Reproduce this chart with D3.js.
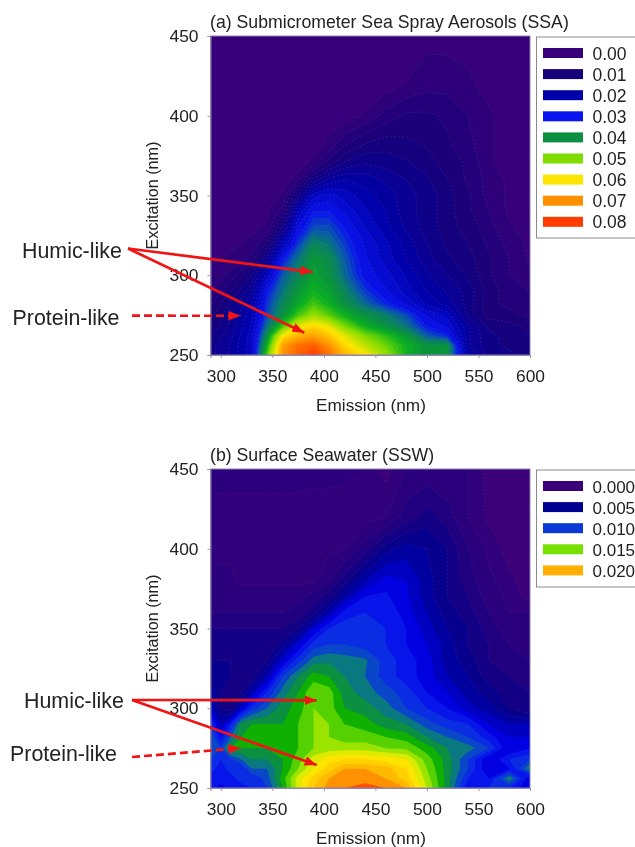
<!DOCTYPE html>
<html>
<head>
<meta charset="utf-8">
<script src="https://cdn.jsdelivr.net/npm/d3@7"></script>
<style>
  html, body { margin: 0; background: #fff; }
  svg { display: block; filter: blur(0.45px); font-family: "Liberation Sans", Arial, sans-serif; }
  text { fill: #222; }
</style>
</head>
<body>
<svg id="chart" width="635" height="847"></svg>
<script>
// values, intensity in units of 0.001
const emissionA = [290, 310, 330, 345, 360, 375, 390, 405, 420, 440, 460, 480, 500, 520, 540, 560, 580, 600];
const excitationA = [250, 256, 262, 268, 275, 282, 290, 300, 310, 320, 330, 340, 350, 360, 370, 380, 400, 420, 450];
const intensityA = [
  [14, 18, 24, 48, 70, 76, 80, 74, 66, 60, 52, 44, 40, 40, 20, 14, 13, 12],
  [14, 18, 24, 44, 68, 74, 76, 70, 62, 55, 49, 44, 40, 40, 18, 13, 12, 12],
  [12, 17, 24, 40, 60, 66, 68, 64, 58, 50, 46, 41, 34, 31, 18, 13, 12, 10],
  [10, 16, 23, 36, 47, 58, 62, 58, 50, 44, 40, 36, 30, 27, 18, 12, 11, 9],
  [9, 15, 22, 33, 40, 47, 52, 48, 44, 40, 37, 33, 27, 24, 14, 9, 8, 7],
  [7, 13, 20, 32, 38, 43, 47, 44, 40, 35, 31, 27, 22, 19, 14, 8, 7, 6],
  [5, 10, 17, 30, 36, 41, 44, 42, 38, 32, 28, 24, 20, 17, 14, 9, 6, 5],
  [3, 6, 13, 24, 34, 38, 42, 40, 35, 29, 26, 22, 18, 15, 12, 8, 5, 3],
  [2, 3, 6, 16, 30, 36, 41, 39, 34, 28, 24, 20, 16, 13, 11, 8, 5, 2],
  [1, 2, 3, 8, 22, 32, 38, 36, 32, 27, 23, 19, 15, 12, 10, 7, 4, 2],
  [0, 1, 2, 3, 13, 28, 33, 33, 30, 25, 21, 17, 14, 11, 9, 6, 3, 1],
  [0, 0, 1, 2, 6, 23, 30, 30, 27, 23, 20, 16, 14, 11, 8, 5, 2, 1],
  [0, 0, 0, 1, 3, 13, 24, 26, 24, 21, 19, 16, 14, 11, 8, 4, 2, 1],
  [0, 0, 0, 0, 1, 4, 13, 18, 20, 19, 17, 15, 13, 10, 7, 4, 2, 0],
  [0, 0, 0, 0, 0, 1, 4, 9, 13, 15, 14, 13, 11, 9, 7, 3, 1, 0],
  [0, 0, 0, 0, 0, 0, 1, 4, 8, 11, 12, 11, 10, 8, 6, 3, 1, 0],
  [0, 0, 0, 0, 0, 0, 0, 0, 1, 3, 6, 8, 8, 7, 5, 3, 1, 0],
  [0, 0, 0, 0, 0, 0, 0, 0, 0, 0, 1, 2.6, 4, 4, 3, 1.5, 1, 0],
  [0, 0, 0, 0, 0, 0, 0, 0, 0, 0, 0, 0.5, 1.6, 1.5, 1.5, 1, 0, 0]
];
const legendValuesA = [0, 0.01, 0.02, 0.03, 0.04, 0.05, 0.06, 0.07, 0.08];
const legendLabelsA = ["0.00", "0.01", "0.02", "0.03", "0.04", "0.05", "0.06", "0.07", "0.08"];
const colorStopsA = [0, 0.01, 0.02, 0.03, 0.034, 0.037, 0.04, 0.044, 0.05, 0.06, 0.07, 0.08];
const colorsA = ["#37007a", "#16007a", "#0000a8", "#0a14f0", "#0a5ca8", "#0a8068", "#0a9040", "#0ab020", "#7fdc00", "#ffe600", "#ff9000", "#ff3c00"];

const emissionB = [290, 300, 310, 320, 330, 345, 360, 375, 390, 405, 420, 440, 460, 480, 500, 520, 540, 560, 580, 600];
const excitationB = [250, 256, 262, 268, 275, 282, 290, 300, 310, 320, 330, 340, 350, 360, 370, 380, 400, 420, 450];
const intensityB = [
  [9, 7, 9, 8, 9, 10, 13, 16.5, 19, 20.5, 21, 21.5, 21, 20, 16, 12.5, 8, 9, 9, 7],
  [8, 9, 8, 10, 9, 10.5, 13.5, 16.5, 18.5, 20, 20.5, 20.5, 20, 18.5, 15.5, 12.5, 9, 8, 12, 7],
  [10, 8, 10, 9, 11, 11, 13, 15, 17, 18.5, 20, 20, 19.5, 18, 15, 12.5, 10, 7, 8, 12],
  [10, 9, 10, 11, 12, 12, 13, 14.5, 16.5, 17.5, 18, 18, 17.5, 17, 14.5, 12.5, 10, 7, 9, 10],
  [11, 10, 13, 13, 13, 13, 13.5, 14, 15, 15.5, 15.5, 15.5, 15, 14.8, 13.5, 12, 11.5, 10, 7, 8],
  [11, 8, 11, 13, 13.5, 13.5, 13.5, 14, 15, 15, 14.5, 14.5, 14, 13.5, 12, 11, 10, 8.5, 7, 7],
  [10, 6, 9, 12.5, 13, 13, 13, 14, 15, 15, 14, 13.5, 12.5, 12, 10.5, 9.5, 9, 7, 6, 6],
  [7, 4, 3, 7, 9.5, 11, 12.5, 13.5, 15, 14.5, 13, 12.5, 11.5, 10, 9, 8, 6.5, 5.5, 4, 3],
  [6, 4, 3, 4, 6, 9, 11.5, 13, 15, 14.5, 12.5, 11.5, 10.5, 9.5, 8, 7, 5.5, 4.5, 3.5, 3],
  [4, 4, 4, 3, 3.5, 6, 10, 12, 13.5, 13, 12, 11, 9.5, 8.5, 7.5, 6, 5, 3.5, 3, 2.5],
  [4, 4, 4, 3, 3, 4, 7, 9.5, 11.5, 11.8, 11.5, 11.2, 9.5, 8.5, 7.5, 5.5, 4.5, 3, 2.5, 2],
  [3, 3, 3, 3, 3, 3, 4.5, 7, 9.5, 10, 10, 9.5, 9, 8, 7, 5.5, 4, 3, 2, 1.5],
  [3, 3, 3, 3, 3, 3, 3, 4, 7, 9, 9.5, 9.3, 9, 8, 6.5, 5, 4, 2.5, 1.5, 1],
  [2, 2, 2, 2, 2, 2, 2, 2.5, 3.5, 6, 8.5, 9, 8.8, 7.5, 6, 4.5, 3.5, 2, 1, 1],
  [1.6, 1.6, 1.5, 1.5, 1.5, 1.5, 1.5, 1.5, 2.5, 3.5, 5.5, 8, 8.2, 7.2, 5.5, 4, 3, 1.5, 0.8, 0.3],
  [1.2, 1.2, 1.2, 0.8, 0.8, 0.8, 0.8, 0.8, 0.8, 2, 3.5, 6, 7.5, 7, 5.5, 4, 2.5, 1.2, 0.6, 0.3],
  [0.8, 0.8, 0.8, 0.8, 0.8, 0.8, 0.8, 0.8, 0.7, 0.7, 1, 2.5, 4.5, 5.5, 5, 4, 2, 0.8, 0.3, 0.2],
  [0.8, 0.8, 0.8, 0.8, 0.8, 0.8, 0.8, 0.8, 0.7, 0.7, 0.6, 0.6, 1, 2.5, 3.5, 2.5, 1, 0.4, 0.2, 0],
  [1.2, 1.2, 1.2, 1.2, 1.2, 1.2, 1.2, 1.2, 1.2, 1.2, 1.2, 1, 0.3, 1, 1.2, 1, 1, 0.3, 0, 0]
];
const legendValuesB = [0, 0.005, 0.01, 0.015, 0.02];
const legendLabelsB = ["0.000", "0.005", "0.010", "0.015", "0.020"];
const colorStopsB = [0, 0.003, 0.005, 0.0075, 0.009, 0.0105, 0.0115, 0.0125, 0.0135, 0.015, 0.017, 0.02, 0.0215];
const colorsB = ["#3c0078", "#1a0080", "#000090", "#0000e0", "#0a20f0", "#0a46c8", "#0a7880", "#0a9040", "#10b000", "#78e000", "#ffee00", "#ffb000", "#ff5000"];

const emissionTicks = [300, 350, 400, 450, 500, 550, 600];
const excitationTicks = [250, 300, 350, 400, 450];

const svg = d3.select("#chart");

const defs = svg.append("defs");
defs.append("marker")
  .attr("id", "head")
  .attr("markerUnits", "userSpaceOnUse")
  .attr("viewBox", "0 0 10 8")
  .attr("refX", 10)
  .attr("refY", 4)
  .attr("markerWidth", 12)
  .attr("markerHeight", 10)
  .attr("orient", "auto")
  .append("path")
  .attr("d", "M0,0L10,4L0,8Z")
  .attr("fill", "#f01414");

function drawPanel(cfg) {
  const left = 210.5, right = 530;
  const top = cfg.top, bottom = cfg.top + 319;

  const x = d3.scaleLinear().domain([290, 600]).range([left, right]);
  const y = d3.scaleLinear().domain([250, 450]).range([bottom, top]);
  const color = d3.scaleLinear().domain(cfg.colorStops).range(cfg.colors).clamp(true);

  // grid index -> wavelength, the grids are not evenly spaced
  const colToEm = d3.scaleLinear().domain(d3.range(cfg.emission.length)).range(cfg.emission);
  const rowToEx = d3.scaleLinear().domain(d3.range(cfg.excitation.length)).range(cfg.excitation);

  const g = svg.append("g");
  const clipId = "clip-" + cfg.key;
  defs.append("clipPath").attr("id", clipId)
    .append("rect")
    .attr("x", left).attr("y", top)
    .attr("width", right - left).attr("height", bottom - top);

  const plot = g.append("g").attr("clip-path", `url(#${clipId})`);
  plot.append("rect")
    .attr("x", left).attr("y", top)
    .attr("width", right - left).attr("height", bottom - top)
    .attr("fill", color(0));

  const flat = cfg.intensity.flat().map(v => v * 0.001);
  const contours = d3.contours()
    .size([cfg.emission.length, cfg.excitation.length])
    .thresholds(cfg.levels)(flat);

  const toPath = geo => geo.coordinates.map(poly => poly.map(ring =>
    "M" + ring.map(p => [x(colToEm(p[0] - 0.5)), y(rowToEx(p[1] - 0.5))].join(",")).join("L") + "Z"
  ).join("")).join("");

  plot.selectAll("path.band")
    .data(contours)
    .join("path")
    .attr("class", "band")
    .attr("d", toPath)
    .attr("fill", d => color(d.value + cfg.step / 2))
    .attr("stroke", d => d.value <= cfg.lineMax ? cfg.lineColor : "none")
    .attr("stroke-opacity", 0.35)
    .attr("stroke-width", 0.7)
    .attr("stroke-dasharray", "2 2");

  // axes
  const xAxis = g.append("g")
    .attr("transform", `translate(0,${bottom})`)
    .call(d3.axisBottom(x).tickValues(emissionTicks).tickSize(3).tickPadding(12));
  const yAxis = g.append("g")
    .attr("transform", `translate(${left},0)`)
    .call(d3.axisLeft(y).tickValues(excitationTicks).tickSize(3).tickPadding(9));
  [xAxis, yAxis].forEach(a => {
    a.attr("font-size", 17.4).attr("font-family", null);
    a.select(".domain").attr("stroke", "#8f84b0");
    a.selectAll(".tick line").attr("stroke", "#999");
    a.selectAll(".tick text").attr("fill", "#222");
  });

  g.append("rect")
    .attr("x", left).attr("y", top)
    .attr("width", right - left).attr("height", bottom - top)
    .attr("fill", "none").attr("stroke", "#8f84b0").attr("stroke-width", 1);

  g.append("text").attr("x", 210).attr("y", top - 8)
    .attr("font-size", 17.7).text(cfg.title);
  g.append("text").attr("x", 371).attr("y", bottom + 56)
    .attr("text-anchor", "middle").attr("font-size", 17.2).text("Emission (nm)");
  g.append("text")
    .attr("transform", `translate(158,${(top + bottom) / 2}) rotate(-90)`)
    .attr("text-anchor", "middle").attr("font-size", 16.2).text("Excitation (nm)");

  // legend
  g.append("rect")
    .attr("x", 536.5).attr("y", cfg.legendTop)
    .attr("width", 120).attr("height", cfg.legendHeight)
    .attr("fill", "#fff").attr("stroke", "#8a8a8a").attr("stroke-width", 1);
  const item = g.selectAll("g.item")
    .data(cfg.legendValues)
    .join("g")
    .attr("class", "item")
    .attr("transform", (d, i) => `translate(543,${cfg.legendTop + 16 + i * 21.1})`);
  item.append("rect")
    .attr("y", -5).attr("width", 40).attr("height", 10)
    .attr("fill", d => color(d));
  item.append("text")
    .attr("x", 49.5).attr("y", 6.5)
    .attr("font-size", cfg.legendSize)
    .text((d, i) => cfg.legendLabels[i]);

  // annotations
  const ann = g.append("g");
  const red = "#f01414";
  ann.append("text").attr("x", cfg.humic[0]).attr("y", cfg.humic[1]).attr("font-size", 21.4).text("Humic-like");
  ann.append("text").attr("x", cfg.protein[0]).attr("y", cfg.protein[1]).attr("font-size", 21.4).text("Protein-like");
  cfg.humicTargets.forEach(t => {
    ann.append("line")
      .attr("x1", cfg.humicStart[0]).attr("y1", cfg.humicStart[1])
      .attr("x2", x(t[0])).attr("y2", y(t[1]))
      .attr("stroke", red).attr("stroke-width", 2.7)
      .attr("marker-end", "url(#head)");
  });
  ann.append("line")
    .attr("x1", cfg.proteinStart[0]).attr("y1", cfg.proteinStart[1])
    .attr("x2", x(cfg.proteinTarget[0])).attr("y2", y(cfg.proteinTarget[1]))
    .attr("stroke", red).attr("stroke-width", 2.7)
    .attr("stroke-dasharray", "8 4")
    .attr("marker-end", "url(#head)");
}

drawPanel({
  key: "a", top: 36,
  title: "(a) Submicrometer Sea Spray Aerosols (SSA)",
  emission: emissionA, excitation: excitationA, intensity: intensityA,
  levels: d3.range(0.0025, 0.03, 0.0025).concat(d3.range(0.03, 0.085, 0.00125)), step: 0.00125,
  lineMax: 0.03, lineColor: "#7a60c0",
  colorStops: colorStopsA, colors: colorsA,
  legendValues: legendValuesA, legendLabels: legendLabelsA, legendSize: 17.5,
  legendTop: 37, legendHeight: 201,
  humic: [22, 258], protein: [12.5, 325],
  humicStart: [128, 248.5], humicTargets: [[389, 302], [381, 264]],
  proteinStart: [132, 315.7], proteinTarget: [319, 274.6]
});

drawPanel({
  key: "b", top: 469,
  title: "(b) Surface Seawater (SSW)",
  emission: emissionB, excitation: excitationB, intensity: intensityB,
  levels: [0.0005].concat(d3.range(0.001, 0.0225, 0.001)), step: 0.001,
  lineMax: 0.005, lineColor: "#8a40a0",
  colorStops: colorStopsB, colors: colorsB,
  legendValues: legendValuesB, legendLabels: legendLabelsB, legendSize: 17,
  legendTop: 470, legendHeight: 117,
  humic: [24, 708], protein: [10, 761],
  humicStart: [132, 700], humicTargets: [[393, 305], [393, 264.4]],
  proteinStart: [132, 757], proteinTarget: [319, 275]
});
</script>
</body>
</html>
